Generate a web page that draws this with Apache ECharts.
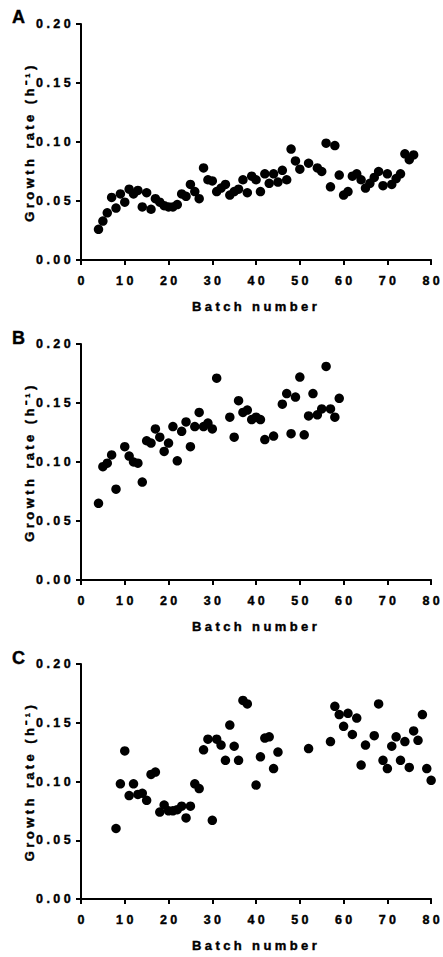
<!DOCTYPE html>
<html><head><meta charset="utf-8">
<script src="https://cdn.jsdelivr.net/npm/echarts@6/dist/echarts.min.js"></script>
<style>
html,body{margin:0;padding:0;background:#fff;}
#chart{width:443px;height:957px;}
#chart text{letter-spacing:3.4px;}
</style></head><body><div id="chart"></div>
<script>
// Panel labels
const panelLabels = ['A', 'B', 'C'];
const xTitle = 'Batch number';
const yTitle = 'Growth rate (h\u207B\u00B9)';

// Panel A
const batchA = [4,5,6,7,8,9,10,11,12,13,14,15,16,17,18,19,20,21,22,23,24,25,26,27,28,29,30,31,32,33,34,35,36,37,38,39,40,41,42,43,44,45,46,47,48,49,50,52,54,55,56,57,58,59,60,61,62,63,64,65,66,67,68,69,70,71,72,73,74,75,76];
const rateA = [0.026,0.033,0.040,0.053,0.044,0.056,0.049,0.060,0.056,0.059,0.045,0.057,0.043,0.052,0.049,0.046,0.045,0.045,0.047,0.056,0.054,0.064,0.058,0.052,0.078,0.068,0.067,0.058,0.061,0.064,0.055,0.058,0.060,0.068,0.057,0.071,0.068,0.058,0.073,0.065,0.073,0.066,0.076,0.068,0.094,0.084,0.077,0.082,0.078,0.075,0.099,0.062,0.097,0.072,0.055,0.058,0.071,0.073,0.068,0.061,0.065,0.070,0.075,0.063,0.073,0.064,0.069,0.073,0.090,0.085,0.089];

// Panel B
const batchB = [4,5,6,7,8,10,11,12,13,14,15,16,17,18,19,20,21,22,23,24,25,26,27,28,29,30,31,34,35,36,37,38,39,40,41,42,44,46,47,48,49,50,51,52,53,54,55,56,57,58,59];
const rateB = [0.065,0.096,0.099,0.106,0.077,0.113,0.105,0.100,0.099,0.083,0.118,0.116,0.128,0.121,0.109,0.116,0.130,0.101,0.126,0.134,0.113,0.130,0.142,0.130,0.133,0.128,0.171,0.138,0.121,0.152,0.142,0.144,0.136,0.138,0.136,0.119,0.122,0.149,0.158,0.124,0.155,0.172,0.123,0.139,0.158,0.140,0.145,0.181,0.145,0.138,0.154];

// Panel C
const batchC = [8,9,10,11,12,13,14,15,16,17,18,19,20,21,22,23,24,25,26,27,28,29,30,31,32,33,34,35,36,37,38,40,41,42,43,44,45,52,57,58,59,60,61,62,63,64,65,67,68,69,70,71,72,73,74,75,76,77,78,79,80];
const rateC = [0.060,0.098,0.126,0.088,0.098,0.089,0.090,0.084,0.106,0.108,0.074,0.080,0.075,0.075,0.076,0.079,0.069,0.079,0.098,0.094,0.127,0.136,0.067,0.136,0.131,0.118,0.148,0.130,0.118,0.169,0.166,0.097,0.121,0.137,0.138,0.111,0.125,0.128,0.134,0.164,0.157,0.147,0.158,0.140,0.154,0.114,0.131,0.139,0.166,0.118,0.111,0.130,0.138,0.118,0.134,0.112,0.143,0.135,0.157,0.111,0.101];

const batches = [batchA, batchB, batchC];
const rates = [rateA, rateB, rateC];

const FONT = 'Arial, "Liberation Sans", Helvetica, sans-serif';
const gridTops = [24, 344, 664];
const gridHeights = [236, 236, 235];
const labelTops = [8, 329, 649];

const chart = echarts.init(document.getElementById('chart'), null, {renderer: 'svg'});

const txt = (size) => ({color: '#000', fontWeight: 'bold', fontSize: size, fontFamily: FONT,
  textBorderColor: '#000', textBorderWidth: 0.4});

const option = {
  animation: false,
  backgroundColor: '#fff',
  title: panelLabels.map((t, i) => ({
    text: t, left: 12, top: labelTops[i], padding: 0,
    textStyle: txt(18)
  })),
  grid: gridTops.map((t, i) => ({left: 81, top: t, width: 352, height: gridHeights[i], containLabel: false})),
  xAxis: gridTops.map((t, i) => ({
    type: 'value', gridIndex: i, min: 0, max: 80, interval: 10,
    axisLine: {show: true, onZero: false, lineStyle: {color: '#000', width: 2}},
    axisTick: {show: true, length: 5, lineStyle: {color: '#000', width: 2}},
    splitLine: {show: false},
    axisLabel: Object.assign({margin: 14, padding: [0, 0, 0, 3.4]}, txt(12.5)),
    name: xTitle, nameLocation: 'middle', nameGap: 40,
    nameTextStyle: txt(13)
  })),
  yAxis: gridTops.map((t, i) => ({
    type: 'value', gridIndex: i, min: 0, max: 0.2, interval: 0.05,
    axisLine: {show: true, onZero: false, lineStyle: {color: '#000', width: 2}},
    axisTick: {show: true, length: 5, lineStyle: {color: '#000', width: 2}},
    splitLine: {show: false},
    axisLabel: Object.assign({margin: 7, formatter: v => v.toFixed(2)}, txt(12.5)),
    name: yTitle, nameLocation: 'middle', nameGap: 45, nameRotate: 90,
    nameTextStyle: txt(13)
  })),
  series: batches.map((b, i) => ({
    type: 'scatter', xAxisIndex: i, yAxisIndex: i,
    symbol: 'circle', symbolSize: 9.5,
    itemStyle: {color: '#000', opacity: 1},
    silent: true,
    data: b.map((x, j) => [x, rates[i][j]])
  }))
};
chart.setOption(option);
</script></body></html>
